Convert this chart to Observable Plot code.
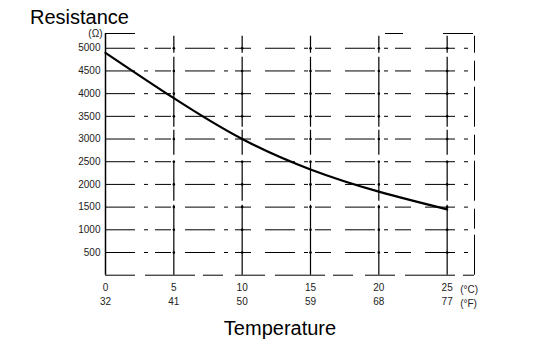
<!DOCTYPE html>
<html>
<head>
<meta charset="utf-8">
<script src="https://cdn.jsdelivr.net/npm/d3@7"></script>
<script src="https://cdn.jsdelivr.net/npm/@observablehq/plot@0.6"></script>
<style>
  body { margin: 0; background: #fff; }
  #wrap { width: 544px; height: 354px; position: relative; overflow: hidden; font-family: "Liberation Sans", Arial, sans-serif; }
  #title { height: 20px; position: relative; }
  #title span { position: absolute; left: 30px; top: 7px; font-size: 20px; line-height: 20px; color: #000; }
  #xlabel { height: 39px; text-align: center; font-size: 20px; line-height: 26px; color: #000; padding-left: 16px; box-sizing: border-box; }
</style>
</head>
<body>
<div id="wrap">
  <div id="title"><span>Resistance</span></div>
  <div id="chart"></div>
  <div id="xlabel">Temperature</div>
</div>
<script>
// Data
const tempC = [0, 5, 10, 15, 20, 25];
const resistance = [4900, 3900, 3000, 2330, 1840, 1450];
const tickC = [0, 5, 10, 15, 20, 25];
const tickF = ["32", "41", "50", "59", "68", "77"];
const tickR = [500, 1000, 1500, 2000, 2500, 3000, 3500, 4000, 4500, 5000];
const gridX = [5, 10, 15, 20, 25];
const unitR = "(Ω)";
const unitC = "(°C)";
const unitF = "(°F)";

const curve = tempC.map((t, i) => ({t, r: resistance[i]}));
const fOf = new Map(tickC.map((c, i) => [c, tickF[i]]));

const xMax = 27, yMax = 5325;

const chart = Plot.plot({
  width: 544,
  height: 295,
  marginLeft: 105,
  marginRight: 70,
  marginTop: 13,
  marginBottom: 40.3,
  x: {domain: [0, xMax]},
  y: {domain: [0, yMax]},
  style: {fontFamily: "Liberation Sans, Arial, sans-serif", fontSize: "10px", color: "#000", background: "#fff"},
  marks: [
    // horizontal grid (broken, scanned look)
    Plot.ruleY(tickR, {x1: 0, x2: xMax, stroke: "#000", strokeWidth: 1, strokeDasharray: "30,9,4,7,16,14"}),
    // vertical grid
    Plot.ruleX(gridX, {y1: 0, y2: yMax - 60, stroke: "#000", strokeWidth: 1.2, strokeDasharray: "70,4,40,6,25,3"}),
    // intersection marks
    Plot.dot(gridX.flatMap(x => tickR.map(y => ({x, y}))), {x: "x", y: "y", r: 1.3, fill: "#000", stroke: "none"}),
    // frame
    Plot.ruleX([0], {y1: 0, y2: yMax, stroke: "#000", strokeWidth: 1.5}),
    Plot.ruleX([xMax], {y1: 0, y2: yMax - 60, stroke: "#000", strokeWidth: 1, strokeDasharray: "40,6,20,8"}),
    Plot.ruleY([0], {x1: 0, x2: xMax, stroke: "#000", strokeWidth: 1, strokeDasharray: "30,10,50,8,20,12"}),
    Plot.ruleY([yMax], {x1: 0, x2: xMax, stroke: "#000", strokeWidth: 1, strokeDasharray: "30,250,18,40"}),
    // curve
    Plot.line(curve, {x: "t", y: "r", curve: "natural", stroke: "#000", strokeWidth: 2.2}),
    // axes
    Plot.axisY(tickR, {tickSize: 0, tickPadding: 5, tickFormat: d3.format("d"), fill: "#222", fontSize: 10}),
    Plot.text([unitR], {x: 0, y: yMax, text: d => d, textAnchor: "end", dx: -3, fill: "#222", fontSize: 10}),
    Plot.axisX(tickC, {tickSize: 0, tickPadding: 9, tickFormat: d3.format("d"), fill: "#222", fontSize: 10}),
    Plot.axisX(tickC, {tickSize: 0, tickPadding: 23, tickFormat: d => fOf.get(d), fill: "#222", fontSize: 10}),
    Plot.text([unitC], {x: 25, y: 0, text: d => d, textAnchor: "start", dx: 13, dy: 14.5, fill: "#222", fontSize: 10}),
    Plot.text([unitF], {x: 25, y: 0, text: d => d, textAnchor: "start", dx: 13, dy: 28.5, fill: "#222", fontSize: 10})
  ]
});
document.getElementById("chart").append(chart);
</script>
</body>
</html>
